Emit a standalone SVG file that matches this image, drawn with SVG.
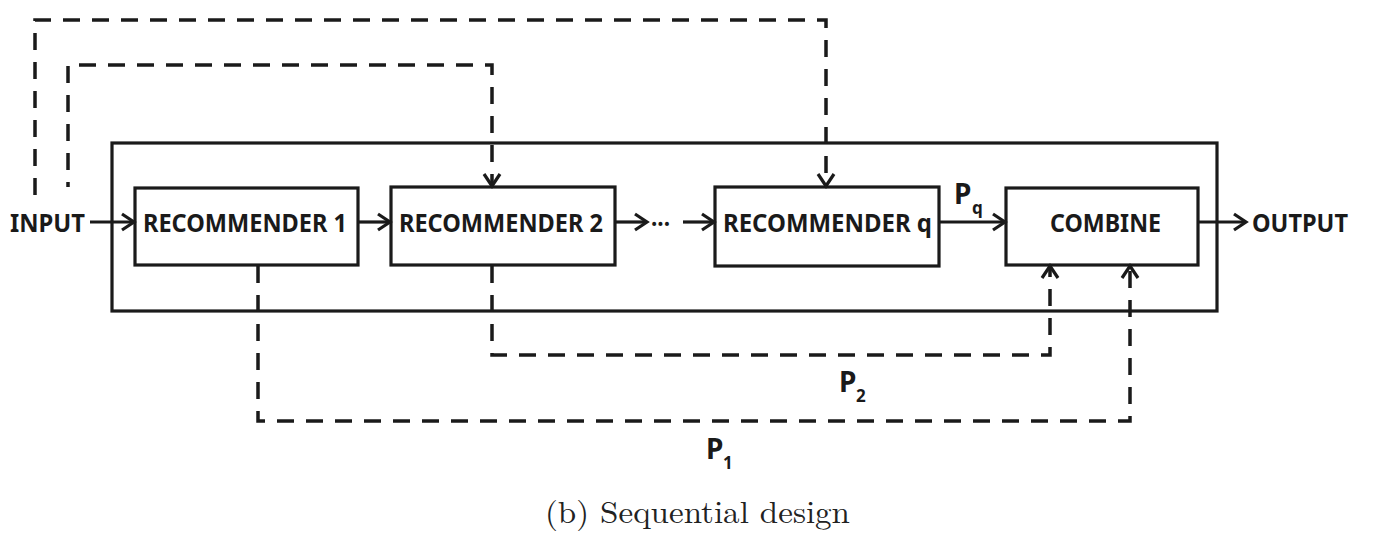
<svg xmlns="http://www.w3.org/2000/svg" width="1394" height="556" viewBox="0 0 1394 556">
<style>
.box{fill:none;stroke:#1a1a1a;stroke-width:3.2}
.lbl{font-family:"Noto Sans","Open Sans",sans-serif;font-weight:bold;font-size:25px;fill:#1a1a1a}
.pl{font-family:"Noto Sans","Open Sans",sans-serif;font-weight:bold;font-size:28px;fill:#1a1a1a}
.sub{font-family:"Noto Sans","Open Sans",sans-serif;font-weight:bold;font-size:17px;fill:#1a1a1a}
.solid{fill:none;stroke:#1a1a1a;stroke-width:3.2}
.dash{fill:none;stroke:#1a1a1a;stroke-width:3.5;stroke-dasharray:17 12}
.cap{font-family:"Latin Modern Roman","DejaVu Serif","Liberation Serif",serif;font-size:31px;fill:#222}
</style>
<defs>
<marker id="ah" markerUnits="userSpaceOnUse" markerWidth="16" markerHeight="18" refX="13" refY="9" orient="auto" overflow="visible">
<path d="M1,1 L13,9 L1,17" fill="none" stroke="#1a1a1a" stroke-width="3.2"/>
</marker>
</defs>
<rect width="1394" height="556" fill="#ffffff"/>
<g id="frame"><rect class="box" x="112" y="143" width="1105" height="168"/></g>
<g id="input"><text class="lbl" x="10" y="232" textLength="75" lengthAdjust="spacingAndGlyphs">INPUT</text></g>
<g id="rec1"><rect class="box" x="135" y="188" width="223" height="77"/><text class="lbl" x="143" y="232" textLength="204" lengthAdjust="spacingAndGlyphs">RECOMMENDER 1</text></g>
<g id="rec2"><rect class="box" x="391" y="187" width="224" height="78"/><text class="lbl" x="399" y="232" textLength="204" lengthAdjust="spacingAndGlyphs">RECOMMENDER 2</text></g>
<g id="ellipsis"><text class="lbl" x="651" y="226" textLength="19" lengthAdjust="spacingAndGlyphs">...</text></g>
<g id="recq"><rect class="box" x="715" y="187" width="224" height="79"/><text class="lbl" x="723" y="232" textLength="209" lengthAdjust="spacingAndGlyphs">RECOMMENDER q</text></g>
<g id="combine"><rect class="box" x="1006" y="188" width="192" height="77"/><text class="lbl" x="1050" y="232" textLength="111" lengthAdjust="spacingAndGlyphs">COMBINE</text></g>
<g id="output"><text class="lbl" x="1252" y="232" textLength="96" lengthAdjust="spacingAndGlyphs">OUTPUT</text></g>
<g id="labels">
<text class="pl" x="954" y="204">P</text><text class="sub" x="972" y="214">q</text>
<text class="pl" x="839" y="392">P</text><text class="sub" x="856" y="402">2</text>
<text class="pl" x="706" y="459">P</text><text class="sub" x="723" y="469">1</text>
</g>
<g id="connectors">
<line class="solid" x1="90" y1="222" x2="134" y2="222" marker-end="url(#ah)"/>
<line class="solid" x1="358" y1="222" x2="390" y2="222" marker-end="url(#ah)"/>
<line class="solid" x1="615" y1="222" x2="647" y2="222" marker-end="url(#ah)"/>
<line class="solid" x1="683" y1="222" x2="714" y2="222" marker-end="url(#ah)"/>
<line class="solid" x1="939" y1="222" x2="1005" y2="222" marker-end="url(#ah)"/>
<line class="solid" x1="1198" y1="222" x2="1246" y2="222" marker-end="url(#ah)"/>
<path class="dash" d="M35,195 V20 H826 V186" marker-end="url(#ah)"/>
<path class="dash" d="M68,187 V65 H492 V186" marker-end="url(#ah)" style="stroke-dashoffset:12"/>
<path class="dash" d="M492,266 V355 H1050 V266" marker-end="url(#ah)"/>
<path class="dash" d="M258,266 V421 H1130 V266" marker-end="url(#ah)"/>
</g>
<text class="cap" x="545" y="523" textLength="305" lengthAdjust="spacingAndGlyphs">(b) Sequential design</text>
</svg>
